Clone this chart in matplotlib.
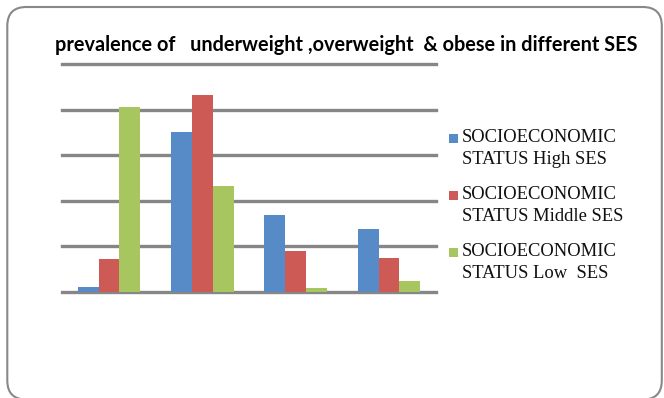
import matplotlib
matplotlib.use("Agg")
import matplotlib.pyplot as plt
import numpy as np
from matplotlib.patches import FancyBboxPatch, Rectangle
from matplotlib.transforms import IdentityTransform

categories = ["underweight", "normal", "overweight", "obese"]
series_names = ["SOCIOECONOMIC\nSTATUS High SES",
                "SOCIOECONOMIC\nSTATUS Middle SES",
                "SOCIOECONOMIC\nSTATUS Low  SES"]
high_ses = [1.0, 35.1, 16.8, 13.8]
middle_ses = [7.2, 43.2, 9.0, 7.4]
low_ses = [40.6, 23.2, 0.8, 2.3]
colors = ["#568BC8", "#CD5A55", "#A8C660"]
title = "prevalence of   underweight ,overweight  & obese in different SES"

W, H = 664, 398
fig = plt.figure(figsize=(W / 100, H / 100), dpi=100)

# rounded border
border = FancyBboxPatch((7.3, -1.5), 654.5, 398.5 - 7.5 + 1.5,
                        boxstyle="round,pad=0,rounding_size=19",
                        transform=IdentityTransform(), facecolor="none",
                        edgecolor="#888888", linewidth=1.5, zorder=-1)
fig.patches.append(border)

ax_l, ax_r, ax_t, ax_b = 62.3, 435.7, 64.0, 291.7
ax = fig.add_axes([ax_l / W, 1 - ax_b / H, (ax_r - ax_l) / W, (ax_b - ax_t) / H])
ax.patch.set_alpha(0)

x = np.arange(len(categories))
bw = 0.223
for i, (vals, c) in enumerate(zip([high_ses, middle_ses, low_ses], colors)):
    ax.bar(x + (i - 1) * bw, vals, width=bw, color=c, zorder=3, linewidth=0)

ax.set_xlim(-0.5, 3.5)
ax.set_ylim(0, 50)
for yv in np.arange(0, 51, 10):
    ax.axhline(yv, color="#868686", linewidth=2.4, zorder=1, clip_on=False)
for s in ax.spines.values():
    s.set_visible(False)
ax.set_xticks([])
ax.set_yticks([])

t = fig.text(346.5 / W, 1 - 45 / H, title, ha="center", va="center",
             fontsize=13, fontweight="bold", family=["Lato", "DejaVu Sans"])
fig.canvas.draw()
w = t.get_window_extent().width
t.set_fontsize(13 * 581 / w)

# legend
entry_y = [138, 195, 252]
for name, c, ey in zip(series_names, colors, entry_y):
    fig.patches.append(Rectangle((449, H - ey - 4.5), 9, 9, transform=IdentityTransform(),
                                 facecolor=c, edgecolor="none"))
    l1, l2 = name.split("\n")
    fig.text(462 / W, 1 - ey / H, l1, ha="left", va="center", fontsize=13.4,
             family=["Liberation Serif"], color="#111111")
    fig.text(462 / W, 1 - (ey + 21.5) / H, l2, ha="left", va="center", fontsize=13.4,
             family=["Liberation Serif"], color="#111111")

fig.savefig("out.png", dpi=100)
